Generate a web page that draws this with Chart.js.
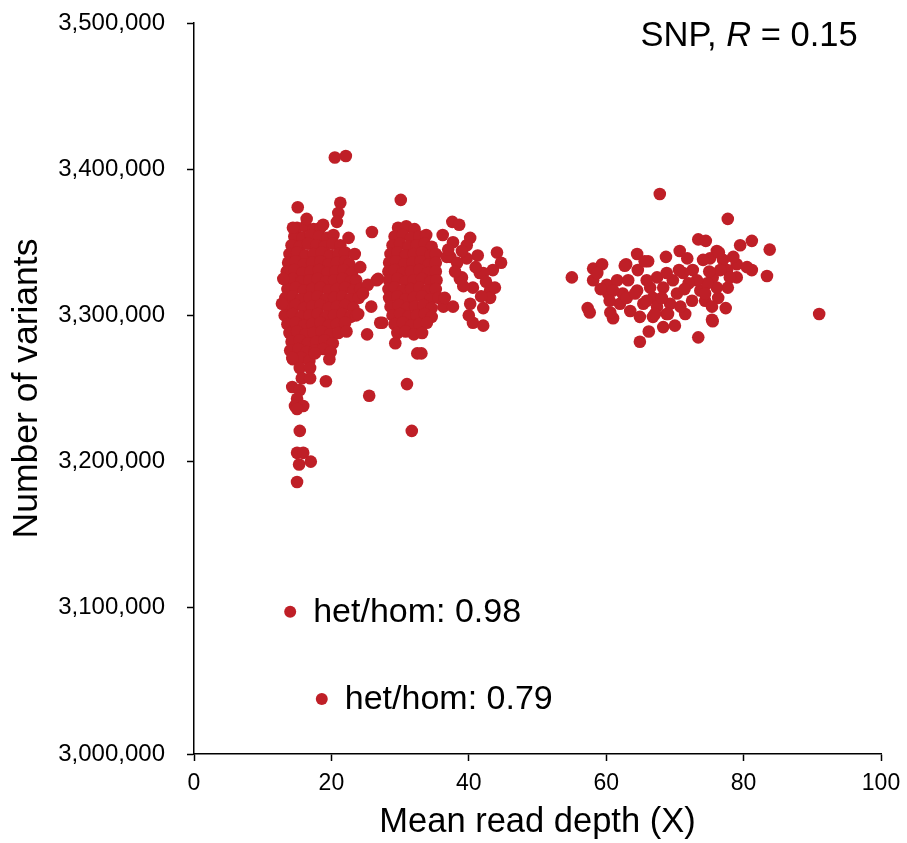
<!DOCTYPE html>
<html>
<head>
<meta charset="utf-8">
<script src="https://cdn.jsdelivr.net/npm/chart.js@4.4.1/dist/chart.umd.min.js"></script>
<style>
  html, body { margin: 0; padding: 0; background: #fff; }
  canvas { display: block; }
</style>
</head>
<body>
<canvas id="depthChart" width="907" height="843"></canvas>
<script>
// samples around 15-20X (mean read depth, number of SNPs)
const lowDepthCore = [
  [15.0, 3360000], [16.2, 3361000], [17.4, 3359000], [18.4, 3360000],
  [14.6, 3354000], [15.8, 3353000], [17.0, 3355000], [18.2, 3354000], [19.4, 3353000], [20.3, 3355000],
  [14.2, 3348000], [15.4, 3347000], [16.6, 3349000], [17.8, 3348000], [19.0, 3347000], [20.2, 3349000], [21.3, 3348000],
  [13.9, 3342000], [15.0, 3343000], [16.2, 3341000], [17.4, 3342000], [18.6, 3343000], [19.8, 3341000], [21.0, 3342000], [22.0, 3343000],
  [13.7, 3336000], [14.8, 3337000], [16.0, 3335000], [17.2, 3336000], [18.4, 3337000], [19.6, 3335000], [20.8, 3336000], [22.0, 3337000], [22.6, 3335000],
  [13.5, 3330000], [14.6, 3331000], [15.8, 3329000], [17.0, 3330000], [18.2, 3331000], [19.4, 3329000], [20.6, 3330000], [21.8, 3331000], [23.0, 3329000],
  [13.4, 3324000], [14.4, 3325000], [15.6, 3323000], [16.8, 3324000], [18.0, 3325000], [19.2, 3323000], [20.4, 3324000], [21.6, 3325000], [22.8, 3323000], [23.6, 3324000],
  [13.6, 3318000], [14.8, 3319000], [16.0, 3317000], [17.2, 3318000], [18.4, 3319000], [19.6, 3317000], [20.8, 3318000], [22.0, 3319000], [23.2, 3317000], [24.2, 3318000],
  [13.3, 3312000], [14.4, 3313000], [15.6, 3311000], [16.8, 3312000], [18.0, 3313000], [19.2, 3311000], [20.4, 3312000], [21.6, 3313000], [22.8, 3311000], [24.0, 3312000],
  [13.5, 3306000], [14.8, 3307000], [16.0, 3305000], [17.2, 3306000], [18.4, 3307000], [19.6, 3305000], [20.8, 3306000], [22.0, 3307000], [23.2, 3305000],
  [13.2, 3300000], [14.4, 3301000], [15.6, 3299000], [16.8, 3300000], [18.0, 3301000], [19.2, 3299000], [20.4, 3300000], [21.6, 3301000], [22.8, 3299000], [23.6, 3300000],
  [13.6, 3294000], [14.8, 3295000], [16.0, 3293000], [17.2, 3294000], [18.4, 3295000], [19.6, 3293000], [20.8, 3294000], [22.0, 3295000],
  [13.9, 3288000], [15.0, 3289000], [16.2, 3287000], [17.4, 3288000], [18.6, 3289000], [19.8, 3287000], [21.0, 3288000], [22.2, 3289000],
  [14.2, 3282000], [15.4, 3283000], [16.6, 3281000], [17.8, 3282000], [19.0, 3283000], [20.2, 3281000],
  [14.0, 3276000], [15.2, 3277000], [16.4, 3275000], [17.6, 3276000], [18.8, 3277000], [19.9, 3275000],
  [14.4, 3270000], [15.6, 3271000], [16.8, 3269000], [19.7, 3270000],
];

const lowDepthSpread = [
  [20.5, 3408000], [22.1, 3409000], [15.1, 3374000], [16.4, 3366000], [18.8, 3362000], [14.4, 3360000],
  [21.3, 3377000], [21.0, 3370000], [20.8, 3364000], [22.5, 3353000], [23.4, 3342000], [24.2, 3333000],
  [25.3, 3321000], [26.6, 3324000], [25.8, 3306000], [23.9, 3301000], [24.6, 3315000], [25.2, 3287000],
  [27.1, 3295000], [25.5, 3245000], [25.9, 3357000], [12.8, 3308000], [13.0, 3325000], [17.6, 3274000],
  [14.3, 3271000], [15.4, 3264000], [16.9, 3264000], [15.7, 3257000], [16.9, 3257000], [19.2, 3255000],
  [14.3, 3251000], [15.4, 3249000], [15.0, 3243000], [14.7, 3238000], [15.9, 3238000], [15.0, 3236000],
  [15.4, 3221000], [15.0, 3206000], [15.9, 3206000], [15.3, 3198000], [17.0, 3200000], [15.0, 3186000],
];

// samples around 30X
const midDepthCore = [
  [29.7, 3360000], [30.9, 3361000], [32.1, 3359000],
  [29.2, 3354000], [30.4, 3355000], [31.6, 3353000], [32.8, 3354000], [33.8, 3355000],
  [28.9, 3348000], [30.0, 3349000], [31.2, 3347000], [32.4, 3348000], [33.6, 3349000], [34.6, 3347000],
  [28.6, 3342000], [29.6, 3343000], [30.8, 3341000], [32.0, 3342000], [33.2, 3343000], [34.4, 3341000], [35.2, 3342000],
  [28.4, 3336000], [29.4, 3337000], [30.6, 3335000], [31.8, 3336000], [33.0, 3337000], [34.2, 3335000], [35.2, 3336000],
  [28.3, 3330000], [29.2, 3331000], [30.4, 3329000], [31.6, 3330000], [32.8, 3331000], [34.0, 3329000], [35.2, 3330000],
  [28.4, 3324000], [29.6, 3325000], [30.8, 3323000], [32.0, 3324000], [33.2, 3325000], [34.4, 3323000], [35.3, 3324000],
  [28.3, 3318000], [29.2, 3319000], [30.4, 3317000], [31.6, 3318000], [32.8, 3319000], [34.0, 3317000], [35.2, 3318000],
  [28.4, 3312000], [29.6, 3313000], [30.8, 3311000], [32.0, 3312000], [33.2, 3313000], [34.4, 3311000], [35.6, 3312000],
  [28.6, 3306000], [29.8, 3307000], [31.0, 3305000], [32.2, 3306000], [33.4, 3307000], [34.6, 3305000], [36.3, 3306000],
  [28.9, 3300000], [30.0, 3301000], [31.2, 3299000], [32.4, 3300000], [33.6, 3301000], [34.6, 3299000],
  [29.2, 3294000], [30.4, 3295000], [31.6, 3293000], [32.8, 3294000], [33.9, 3295000],
  [29.6, 3288000], [30.8, 3289000], [32.0, 3287000], [33.2, 3288000],
];

const midDepthSpread = [
  [30.1, 3379000], [26.8, 3325000], [27.4, 3295000], [29.3, 3281000], [32.5, 3274000], [33.1, 3274000],
  [31.0, 3253000], [31.7, 3221000], [37.6, 3364000], [38.6, 3362000], [36.2, 3355000], [37.7, 3350000],
  [40.2, 3353000], [39.7, 3348000], [41.3, 3341000], [44.1, 3343000], [44.7, 3336000], [37.3, 3340000],
  [39.7, 3339000], [43.5, 3331000], [41.6, 3329000], [38.7, 3325000], [40.6, 3319000], [43.1, 3317000],
  [43.1, 3312000], [40.2, 3308000], [42.1, 3305000], [40.6, 3295000], [42.1, 3293000], [37.7, 3306000],
  [36.5, 3312000], [38.3, 3336000], [39.0, 3326000], [42.1, 3329000], [36.8, 3340000], [43.8, 3319000],
  [38.0, 3330000], [39.2, 3320000], [41.0, 3333000], [42.5, 3323000], [37.0, 3345000], [39.0, 3344000],
  [41.8, 3313000], [40.0, 3300000],
];

// samples around 55-90X
const highDepth = [
  [55.0, 3326000], [67.8, 3383000], [77.7, 3366000], [73.4, 3352000], [74.5, 3351000], [79.5, 3348000],
  [81.2, 3351000], [83.8, 3345000], [83.4, 3327000], [81.2, 3331000], [91.0, 3301000], [58.1, 3332000],
  [59.4, 3335000], [58.1, 3324000], [57.3, 3305000], [57.6, 3302000], [61.0, 3298000], [60.6, 3302000],
  [60.3, 3315000], [62.9, 3335000], [64.5, 3342000], [66.1, 3337000], [68.7, 3340000], [70.7, 3344000],
  [71.8, 3339000], [76.1, 3344000], [75.1, 3339000], [79.0, 3335000], [77.6, 3331000], [64.9, 3282000],
  [66.2, 3289000], [68.3, 3292000], [70.0, 3293000], [73.4, 3285000], [71.5, 3301000], [75.5, 3296000],
  [77.4, 3305000], [76.3, 3312000], [74.4, 3310000], [73.7, 3317000], [77.7, 3319000], [79.0, 3326000],
  [75.5, 3326000], [72.6, 3331000], [69.7, 3324000], [68.3, 3319000], [66.8, 3312000], [65.4, 3308000],
  [63.5, 3303000], [62.0, 3308000], [62.4, 3315000], [64.5, 3317000], [66.4, 3319000], [67.4, 3326000],
  [65.9, 3324000], [68.8, 3329000], [70.3, 3315000], [69.3, 3308000], [67.4, 3306000], [66.8, 3299000],
  [68.8, 3301000], [64.9, 3299000], [60.1, 3321000], [61.6, 3324000], [58.7, 3329000], [64.6, 3331000],
  [74.1, 3338000], [77.0, 3338000], [78.0, 3326000], [76.1, 3319000], [74.7, 3322000], [76.6, 3331000],
  [71.2, 3329000], [73.2, 3324000], [75.4, 3306000], [74.4, 3315000], [63.0, 3312000], [61.0, 3317000],
  [68.1, 3312000], [65.9, 3310000], [62.7, 3334000], [65.6, 3337000], [70.6, 3331000], [72.0, 3322000],
  [67.1, 3301000], [69.0, 3301000], [63.2, 3324000], [64.2, 3315000], [71.4, 3318000], [75.0, 3330000],
  [78.5, 3340000], [80.5, 3333000], [59.2, 3318000], [60.5, 3310000], [72.5, 3310000], [70.8, 3306000],
  [76.4, 3343000], [75.4, 3297000],
];

const xTicks = [0, 20, 40, 60, 80, 100];
const yTicks = [3000000, 3100000, 3200000, 3300000, 3400000, 3500000];

// text notes placed in data units
const hetHomNotes = [
  { x: 14.0, y: 3097300, text: 'het/hom: 0.98' },
  { x: 18.6, y: 3037700, text: 'het/hom: 0.79' },
];
const corrNote = { x: 96.6, y: 3484200, label: 'SNP, ', r: 'R', value: ' = 0.15' };

const red = '#BF1F27';
const fontFamily = "'Liberation Sans', Arial, Helvetica, sans-serif";

const allPoints = [...lowDepthCore, ...lowDepthSpread, ...midDepthCore, ...midDepthSpread, ...highDepth]
  .map(([x, y]) => ({ x, y }));

const notesPlugin = {
  id: 'notes',
  afterDraw(chart) {
    const { ctx, scales: { x, y } } = chart;
    ctx.save();
    ctx.fillStyle = '#000';
    ctx.textBaseline = 'alphabetic';

    // SNP, R = 0.15 (right aligned)
    const normal = `34.5px ${fontFamily}`;
    const italic = `italic 34.5px ${fontFamily}`;
    ctx.font = normal;
    const w1 = ctx.measureText(corrNote.label).width;
    const w3 = ctx.measureText(corrNote.value).width;
    ctx.font = italic;
    const w2 = ctx.measureText(corrNote.r).width;
    let px = x.getPixelForValue(corrNote.x) - (w1 + w2 + w3);
    const py = y.getPixelForValue(corrNote.y);
    ctx.font = normal;
    ctx.fillText(corrNote.label, px, py);
    px += w1;
    ctx.font = italic;
    ctx.fillText(corrNote.r, px, py);
    px += w2;
    ctx.font = normal;
    ctx.fillText(corrNote.value, px, py);

    // het/hom notes with a dot
    hetHomNotes.forEach((n) => {
      const cx = x.getPixelForValue(n.x);
      const cy = y.getPixelForValue(n.y);
      ctx.fillStyle = red;
      ctx.beginPath();
      ctx.arc(cx, cy, 6, 0, Math.PI * 2);
      ctx.fill();
      ctx.fillStyle = '#000';
      ctx.font = `34px ${fontFamily}`;
      ctx.fillText(n.text, cx + 23, cy + 10);
    });
    ctx.restore();
  },
};

const ctx = document.getElementById('depthChart');
const depthChart = new Chart(ctx, {
  type: 'scatter',
  data: {
    datasets: [{
      label: 'SNP',
      data: allPoints,
      backgroundColor: red,
      borderWidth: 0,
      pointRadius: 6.3,
    }],
  },
  options: {
    responsive: false,
    animation: false,
    layout: { padding: { top: 23, right: 26, left: 0, bottom: 0 } },
    plugins: {
      legend: { display: false },
      tooltip: { enabled: false },
    },
    scales: {
      x: {
        type: 'linear',
        min: xTicks[0],
        max: xTicks[xTicks.length - 1],
        afterBuildTicks: (scale) => { scale.ticks = xTicks.map((v) => ({ value: v })); },
        afterFit: (scale) => {
          scale.height = 89;
          scale.paddingLeft = 0;
          scale.paddingRight = 0;
        },
        ticks: { color: '#000', font: { family: fontFamily, size: 23 }, padding: 9 },
        grid: { drawOnChartArea: false, tickLength: 7, tickColor: '#000', tickWidth: 1.5 },
        border: { color: '#000', width: 1.5 },
        title: {
          display: true,
          text: 'Mean read depth (X)',
          color: '#000',
          font: { family: fontFamily, size: 34.5 },
          padding: { top: 2, bottom: 0 },
        },
      },
      y: {
        type: 'linear',
        min: yTicks[0],
        max: yTicks[yTicks.length - 1],
        afterBuildTicks: (scale) => { scale.ticks = yTicks.map((v) => ({ value: v })); },
        afterFit: (scale) => {
          scale.width = 194;
          scale.paddingTop = 0;
          scale.paddingBottom = 0;
        },
        ticks: {
          color: '#000',
          font: { family: fontFamily, size: 24 },
          padding: 22,
          callback: (v) => v.toLocaleString('en-US'),
        },
        grid: { drawOnChartArea: false, tickLength: 7, tickColor: '#000', tickWidth: 1.5 },
        border: { color: '#000', width: 1.5 },
        title: {
          display: true,
          text: 'Number of variants',
          color: '#000',
          font: { family: fontFamily, size: 35.5 },
          padding: { top: 6, bottom: 0 },
        },
      },
    },
  },
  plugins: [notesPlugin],
});
</script>
</body>
</html>
